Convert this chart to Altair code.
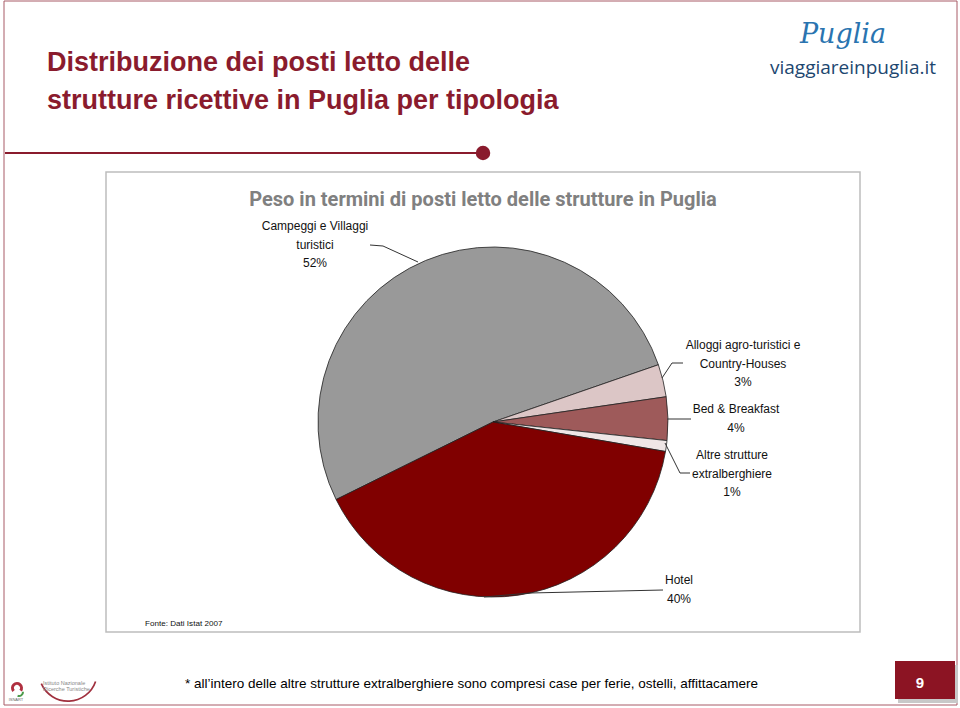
import math
import altair as alt
import pandas as pd

# ---------------- data ----------------
categories = [
    "Campeggi e Villaggi turistici",
    "Alloggi agro-turistici e Country-Houses",
    "Bed & Breakfast",
    "Altre strutture extralberghiere",
    "Hotel",
]
label_lines = [
    "Campeggi e Villaggi\nturistici",
    "Alloggi agro-turistici e\nCountry-Houses",
    "Bed & Breakfast",
    "Altre strutture\nextralberghiere",
    "Hotel",
]
values = [52, 3, 4, 1, 40]
slice_colors = ["#999999", "#dcc6c6", "#9e5a5a", "#efe6e6", "#800000"]

title_lines = ["Distribuzione dei posti letto delle", "strutture ricettive in Puglia per tipologia"]
chart_title = "Peso in termini di posti letto delle strutture in Puglia"
source_note = "Fonte: Dati Istat 2007"
footnote = "* all\u2019intero delle altre strutture extralberghiere sono compresi case per ferie, ostelli, affittacamere"
page_number = "9"

# ---------------- layout ----------------
W, H = 960, 708
CX, CY, R = 493, 422, 175
START = math.radians(243.7)
SANS = "Liberation Sans, Arial, sans-serif"
RED = "#8a1b2d"

# label first-line centres (x, y)
label_pos = [(315, 226), (743, 345), (736, 409), (732, 455), (679, 580)]
leaders = [
    (370, 245, 383, 246), (383, 246, 418, 262),
    (683, 363, 672, 363), (672, 363, 662, 378),
    (667, 419, 691, 419),
    (665, 443, 680, 473), (680, 473, 690, 473),
    (484, 597, 530, 593), (530, 593, 663, 590),
]

one = alt.Data(values=[{}])


def txt(s, x, y, **kw):
    return alt.Chart(one).mark_text(**kw).encode(
        x=alt.value(x), y=alt.value(y), text=alt.value(s))


def rect(x, y, x2, y2, **kw):
    return alt.Chart(one).mark_rect(**kw).encode(
        x=alt.value(x), x2=alt.value(x2), y=alt.value(y), y2=alt.value(y2))


pie_df = pd.DataFrame({
    "cat": categories,
    "value": values,
    "order": list(range(len(categories))),
})

pie = alt.Chart(pie_df).mark_arc(
    outerRadius=R, stroke="#222222", strokeWidth=0.8
).encode(
    x=alt.value(CX), y=alt.value(CY),
    theta=alt.Theta("value:Q", stack=True,
                    scale=alt.Scale(range=[START, START + 2 * math.pi])),
    order=alt.Order("order:Q"),
    color=alt.Color("cat:N", scale=alt.Scale(domain=categories, range=slice_colors), legend=None),
)

lab_df = pd.DataFrame({
    "label": [f"{l}\n{v}%" for l, v in zip(label_lines, values)],
    "px": [p[0] for p in label_pos],
    "py": [p[1] for p in label_pos],
})
labels = alt.Chart(lab_df).mark_text(
    font=SANS, fontSize=12, color="#111111", lineBreak="\n", lineHeight=18.7,
    align="center", baseline="middle"
).encode(
    x=alt.X("px:Q", scale=None), y=alt.Y("py:Q", scale=None), text="label:N")

lead_df = pd.DataFrame(leaders, columns=["x1", "y1", "x2", "y2"])
lead = alt.Chart(lead_df).mark_rule(color="#333333", strokeWidth=1).encode(
    x=alt.X("x1:Q", scale=None), y=alt.Y("y1:Q", scale=None),
    x2="x2:Q", y2="y2:Q")

layers = [
    # slide frame
    rect(4, 1, 957, 705, fill="white", stroke="#a85a66", strokeWidth=1),
    # divider
    alt.Chart(one).mark_rule(color=RED, strokeWidth=2).encode(
        x=alt.value(5), x2=alt.value(480), y=alt.value(153)),
    alt.Chart(one).mark_circle(color=RED, opacity=1, size=210).encode(
        x=alt.value(483), y=alt.value(153)),
    # title
    txt(title_lines[0], 47, 63, font=SANS, fontSize=27, fontWeight="bold",
        color=RED, align="left", baseline="middle"),
    txt(title_lines[1], 47, 101, font=SANS, fontSize=27, fontWeight="bold",
        color=RED, align="left", baseline="middle"),
    # logo
    txt("Puglia", 843, 35, font="DejaVu Serif", fontSize=27, fontStyle="italic",
        color="#2a74b0", align="center", baseline="middle"),
    txt("viaggiareinpuglia.it", 853, 68, font="Open Sans", fontSize=19,
        color="#1d4770", align="center", baseline="middle"),
    # chart box
    rect(106, 172, 860, 632, fill="white", stroke="#bdbdbd", strokeWidth=1.5),
    txt(chart_title, 483, 200, font="Roboto", fontSize=20,
        fontWeight="bold", color="#808080", align="center", baseline="middle"),
    pie,
    lead,
    labels,
    txt(source_note, 145, 624, font=SANS, fontSize=8.1, color="#111111",
        align="left", baseline="middle"),
    # footer
    txt(footnote, 185, 684, font=SANS, fontSize=13.5, color="#000000",
        align="left", baseline="middle"),
    rect(898, 665, 958, 703, fill="#c8c8c8"),
    rect(895, 661, 955, 699, fill="#8c1423"),
    txt(page_number, 920, 683, font=SANS, fontSize=15, fontWeight="bold",
        color="white", align="center", baseline="middle"),
    # institute logo
    alt.Chart(one).mark_arc(color="#a0303e", innerRadius=28.3, outerRadius=30,
                            theta=1.9, theta2=4.3).encode(
        x=alt.value(68), y=alt.value(672)),
    alt.Chart(one).mark_arc(color="#b03040", innerRadius=3, outerRadius=6,
                            theta=4.0, theta2=8.5).encode(
        x=alt.value(17), y=alt.value(688)),
    alt.Chart(one).mark_arc(color="#4a9a4a", innerRadius=3, outerRadius=5,
                            theta=1.5, theta2=3.5).encode(
        x=alt.value(19), y=alt.value(692)),
    txt("ISNART", 16, 700, font=SANS, fontSize=4, color="#666666",
        align="center", baseline="middle"),
    txt("Istituto Nazionale", 43, 683, font=SANS, fontSize=5.5, color="#888888",
        align="left", baseline="middle"),
    txt("Ricerche Turistiche", 43, 689, font=SANS, fontSize=5.5, color="#888888",
        align="left", baseline="middle"),
]

chart = alt.layer(*layers).properties(
    width=W, height=H, padding=0, autosize=alt.AutoSizeParams(type="none"),
    background="white",
).configure_view(stroke=None)

chart.save("out.html", embed_options={"renderer": "svg", "actions": False})
